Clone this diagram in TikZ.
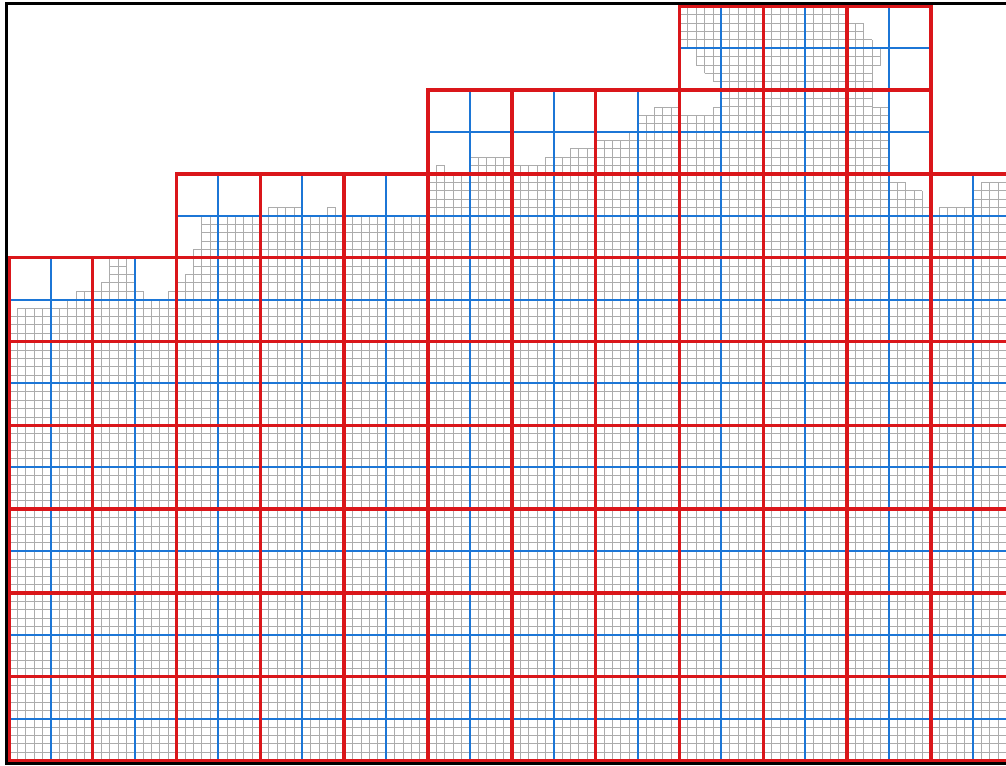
\documentclass[tikz,border=0pt]{standalone}
\usepackage{tikz}
\definecolor{cellgray}{RGB}{172,172,172}
\definecolor{halfblue}{RGB}{28,118,214}
\definecolor{blockred}{RGB}{218,22,26}
\begin{document}
\begin{tikzpicture}[x=0.25cm,y=0.25cm,
  finecell/.style={draw=cellgray,line width=0.6pt,step=0.25cm},
  halfline/.style={draw=halfblue,line width=1.7pt,step=1.25cm},
  blockline/.style={draw=blockred,line width=2.9pt,step=2.5cm,line cap=rect},
  frameline/.style={draw=black,line width=2.6pt}]
\useasboundingbox (-1.07,-0.54) rectangle (118.97,90.75);
\clip (-1.07,-0.54) rectangle (118.97,90.75);

\foreach \a/\b/\h in {0/1/53,1/7/54,7/8/55,8/11/56,11/12/57,12/14/60,14/15/58,
  15/16/56,16/19/55,19/20/56,20/21/57,21/22/58,22/23/61,23/31/65,31/35/66,
  35/38/65,38/39/66,39/50/65,50/51/70,51/52/71,52/55/70,55/60/72,60/64/71,
  64/67/72,67/70/73,70/74/74,74/75/75,75/77/77,77/80/78,80/84/77,84/85/78,
  85/99/90,99/100/89,100/102/88,102/103/86,103/105/78,105/107/69,107/109/68,
  109/110/66,110/111/65,111/115/66,115/116/68,116/120/69}
  \draw[finecell] (\a,0) grid (\b,\h);
\foreach \a/\b/\lo/\hi in {80/81/86/90,81/82/85/90,82/83/83/90,83/84/82/90,
  84/85/81/90,103/104/83/85}
  \draw[finecell] (\a,\lo) grid (\b,\hi);

\foreach \a/\b/\t in {0/20/60,20/50/70,50/80/80,80/110/90,110/120/70}
  \draw[halfline] (\a,0) grid (\b,\t);
\foreach \a/\b/\t in {0/20/60,20/50/70,50/80/80,80/110/90,110/120/70}
  \draw[blockline] (\a,0) grid (\b,\t);

\draw[frameline] (-0.3,-0.36) rectangle (125,90.36);
\end{tikzpicture}
\end{document}
